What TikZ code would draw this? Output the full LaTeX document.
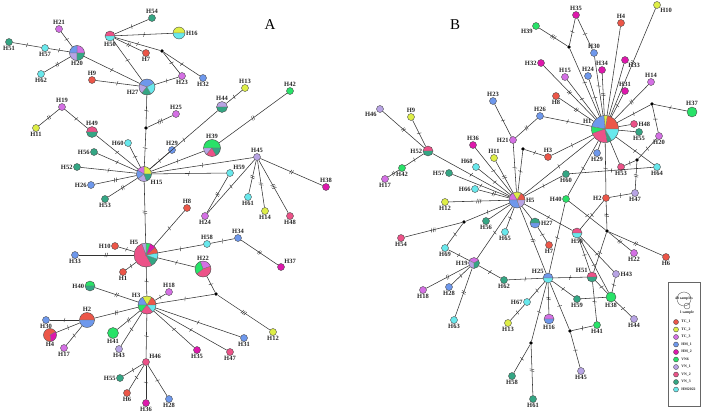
\documentclass[tikz,border=0pt]{standalone}
\usepackage{fontspec}
\setmainfont{Liberation Serif}
\usetikzlibrary{decorations.markings}

\definecolor{tcA}{RGB}{236,86,72}
\definecolor{tcB}{RGB}{222,238,70}
\definecolor{tcC}{RGB}{212,112,228}
\definecolor{hmA}{RGB}{110,152,236}
\definecolor{hmB}{RGB}{222,24,172}
\definecolor{vnS}{RGB}{40,226,104}
\definecolor{vnA}{RGB}{184,164,228}
\definecolor{vnB}{RGB}{236,82,136}
\definecolor{vnC}{RGB}{52,166,132}
\definecolor{hmX}{RGB}{104,232,236}

\tikzset{
  tk/.style={line width=.4pt,draw=black!80},
  pie/.style={path picture={\foreach \cl/\sa/\ea in {#1}{\filldraw[fill=\cl,draw=black!55,line width=.3pt] (path picture bounding box.center) -- ++(\sa:30pt) arc[start angle=\sa,end angle=\ea,radius=30pt] -- cycle;}}},
  m1/.style={postaction={decorate,decoration={markings,mark=at position .5 with {\draw[tk] (-.5pt,-2.2pt) -- (.5pt,2.2pt);}}}},
  m2/.style={postaction={decorate,decoration={markings,mark=at position .5 with {\draw[tk] (-1.4pt,-2.2pt) -- (-.4pt,2.2pt) (.4pt,-2.2pt) -- (1.4pt,2.2pt);}}}},
  m3/.style={postaction={decorate,decoration={markings,mark=at position .5 with {\draw[tk] (-2.3pt,-2.2pt) -- (-1.3pt,2.2pt) (-.5pt,-2.2pt) -- (.5pt,2.2pt) (1.3pt,-2.2pt) -- (2.3pt,2.2pt);}}}}
}

\begin{document}
\begin{tikzpicture}[x=1pt,y=-1pt,
  hap/.style={circle,draw=black!70,line width=.4pt,inner sep=0pt,minimum size=7pt},
  dot/.style={circle,fill=black,inner sep=0pt,minimum size=3.6pt},
  lbl/.style={font=\fontsize{6.5}{7}\selectfont\bfseries,inner sep=.6pt,text=black!85},
  lg/.style={font=\fontsize{3.8}{4}\selectfont\bfseries,inner sep=0pt,text=black!85},
  edge/.style={draw=black!80,line width=.55pt}]
\useasboundingbox (0,0) rectangle (709,415);

% ---------------- network A
\node[font=\fontsize{15}{15}\selectfont] (tA) at (270,25) {A};
\foreach \n/\x/\y/\cl/\p in {54/152/18/vnC/above, 7/146/53/tcA/below, 21/59/29/tcC/above, 51/9/42/vnC/below,
  57/45/48/hmX/below, 62/41/74/hmX/below, 9/92/80/tcA/above, 23/182/76/tcC/below, 32/203/78/hmA/below,
  25/176/114/tcC/above, 13/245/88/tcB/above, 42/290/91/vnS/above, 19/62/107/tcC/above, 11/36/128/tcB/below,
  60/128/143/hmX/left, 56/94/152/vnC/left, 52/77/167/vnC/left, 26/91/185/hmA/left, 53/105/199/vnC/below,
  29/172/150/hmA/above, 59/230/173/hmX/above right, 45/257/157/vnA/above, 38/326/187/hmB/above,
  61/248/197/hmX/below, 14/265/211/tcB/below, 48/290/216/vnB/below, 24/205/216/tcC/below, 8/187/208/tcA/above,
  10/115/246/tcA/left, 33/75/255/hmA/below, 1/123/272/tcA/below, 58/207/244/hmX/above, 34/238/238/hmA/above,
  37/281/267/hmB/above right, 18/169/292/tcC/above, 12/273/332/tcB/below, 30/46/320/hmA/below,
  17/64/348/tcC/below, 43/119/349/vnA/below, 35/197/350/hmB/below, 47/230/352/vnB/below, 31/244/338/hmA/below,
  46/146/362/vnB/above right, 55/120/378/vnC/left, 6/127/393/tcA/below, 36/146/403/hmB/below, 28/169/399/hmA/below}
  \node[hap,fill=\cl,label={[lbl]\p:H\n}] (a\n) at (\x,\y) {};
\node[hap,minimum size=10pt,pie={vnB/0/180,hmX/180/360},label={[lbl]below:H50}] (a50) at (110,36) {};
\node[hap,minimum size=12pt,pie={tcB/0/180,hmX/180/360},label={[lbl]right:H16}] (a16) at (179,33) {};
\node[hap,minimum size=15pt,pie={tcC/0/90,hmA/90/180,vnA/180/270,vnC/270/360},label={[lbl]below:H20}] (a20) at (77,53) {};
\node[hap,minimum size=16pt,pie={hmA/30/160,vnA/160/230,vnC/230/300,hmX/300/390},label={[lbl]200:H27}] (a27) at (147,87) {};
\node[hap,minimum size=11pt,pie={vnA/0/180,vnC/180/360},label={[lbl]above:H44}] (a44) at (222,107) {};
\node[hap,minimum size=11pt,pie={vnB/0/180,vnC/180/360},label={[lbl]above:H49}] (a49) at (92,132) {};
\node[hap,minimum size=15pt,pie={tcB/0/90,tcC/90/150,hmA/150/220,vnA/220/290,vnC/290/360},label={[lbl]-40:H15}] (a15) at (144,174) {};
\node[hap,minimum size=17pt,pie={vnS/0/180,vnA/180/230,vnB/230/300,vnC/300/360},label={[lbl]above:H39}] (a39) at (212,148) {};
\node[hap,minimum size=24pt,pie={vnB/110/300,vnC/300/340,hmX/340/370,tcA/10/40,hmB/40/70,vnS/70/90,vnA/90/110},label={[lbl]125:H5}] (a5) at (146,255) {};
\node[hap,minimum size=16pt,pie={tcC/20/110,vnS/110/220,vnB/220/380},label={[lbl]above:H22}] (a22) at (203,269) {};
\node[hap,minimum size=10pt,pie={vnS/0/180,vnC/180/360},label={[lbl]left:H40}] (a40) at (90,286) {};
\node[hap,minimum size=11pt,fill=vnS,label={[lbl]below:H41}] (a41) at (113,333) {};
\node[hap,minimum size=18pt,pie={tcA/0/60,tcB/60/120,hmA/120/180,vnS/180/230,vnB/230/310,hmX/310/360},label={[lbl]130:H3}] (a3) at (147,305) {};
\node[hap,minimum size=15pt,pie={tcA/0/180,hmA/180/360},label={[lbl]above:H2}] (a2) at (87,320) {};
\node[hap,minimum size=13pt,pie={tcA/30/280,hmB/280/390},label={[lbl]below:H4}] (a4) at (50,335) {};
\node[dot] (ja1) at (162,51) {};
\node[dot] (ja2) at (146,128) {};
\node[dot] (ja3) at (216,294) {};

\foreach \a/\b in {a54/a50, a16/a50, a50/ja1, ja1/a23, ja1/a32, a50/a27, a23/a27, a20/a21, a20/a57, a57/a51,
  a20/a27, a9/a27, a27/ja2, ja2/a15, a19/a49, a49/a15, a44/a13, a44/a15, a39/a15, a29/a15, a60/a15, a56/a15,
  a52/a15, a15/a45, a15/a59, a45/a24, a5/a8, a5/a10, a5/a1, a5/a58, a58/a34, a5/a22, a5/a3, a22/ja3, ja3/a3,
  a3/a18, a2/a30, a2/a4, a2/a17, a3/a43, a3/a35, a3/a47, a3/a31, a3/a46, a46/a55, a46/a6, a46/a36, a46/a28}
  \draw[edge,m1] (\a) -- (\b);
\foreach \a/\b in {a50/a7, a20/a62, a19/a11, a42/a39, a26/a15, a53/a15, a59/a24, a45/a61, a45/a14, a45/a38,
  a15/a5, a5/a33, a34/a37, a3/a40, a3/a2, a3/a41}
  \draw[edge,m2] (\a) -- (\b);
\foreach \a/\b in {ja2/a25, a45/a48, ja3/a12}
  \draw[edge,m3] (\a) -- (\b);

% ---------------- network B
\node[font=\fontsize{15}{15}\selectfont] (tB) at (455,25) {B};
\foreach \n/\x/\y/\cl/\p in {46/380/109/vnA/below left, 9/411/117/tcB/above, 23/493/101/hmA/above,
  42/402/168/vnS/below, 17/385/179/tcC/below, 36/473/145/hmB/above, 21/513/140/tcC/left,
  68/476/167/hmX/above left, 11/494/158/tcB/above, 57/449/173/vnC/left, 66/475/189/hmX/left,
  12/445/202/tcB/below, 3/548/157/tcA/above, 56/486/221/vnC/below, 65/505/232/hmX/below,
  54/401/238/vnB/below, 69/445/248/hmX/below, 18/423/290/tcC/below, 28/449/287/hmA/below,
  63/454/320/hmX/below, 62/504/280/vnC/below, 7/549/245/tcA/below, 67/527/302/hmX/left,
  13/508/323/tcB/below, 58/512/376/vnC/below, 61/533/399/vnC/below, 45/581/371/vnA/below,
  59/577/299/vnC/below, 41/597/325/vnS/below, 44/634/319/vnA/below, 43/616/274/vnA/right,
  22/634/253/tcC/below, 6/666/257/tcA/below, 2/606/198/tcA/left, 47/635/193/vnA/below,
  40/566/199/vnS/left, 60/566/174/vnC/below, 29/597/153/hmA/below, 53/621/167/vnB/below,
  64/657/167/hmX/below, 20/659/136/tcC/below, 55/639/132/vnC/below, 48/634/124/vnB/right,
  14/651/82/tcC/above, 31/625/91/hmB/above, 33/625/60/hmB/below right, 34/602/70/hmB/above,
  24/588/76/hmA/above, 15/565/77/tcC/above, 8/556/96/tcA/below, 32/541/63/hmB/left,
  26/540/116/hmA/above, 30/594/53/hmA/above, 35/576/15/hmB/above, 39/536/26/vnS/below left,
  4/621/23/tcA/above, 10/657/5/tcB/below right}
  \node[hap,fill=\cl,label={[lbl]\p:H\n}] (b\n) at (\x,\y) {};
\node[hap,minimum size=27pt,pie={tcA/0/80,tcB/80/95,hmA/95/170,vnS/170/200,vnB/200/280,vnC/280/300,hmX/300/360},label={[lbl]160:H1}] (b1) at (605,129) {};
\node[hap,minimum size=10pt,pie={vnB/0/180,vnC/180/360},label={[lbl]left:H52}] (b52) at (428,151) {};
\node[hap,minimum size=16pt,pie={tcA/0/60,tcB/60/120,tcC/120/180,hmA/180/290,vnA/290/360},label={[lbl]right:H5}] (b5) at (517,200) {};
\node[hap,minimum size=11pt,pie={tcC/30/150,vnA/150/270,vnC/270/390},label={[lbl]left:H19}] (b19) at (474,263) {};
\node[hap,minimum size=10pt,pie={vnC/0/180,hmA/180/360},label={[lbl]right:H27}] (b27) at (535,223) {};
\node[hap,minimum size=10pt,pie={hmA/0/180,hmX/180/360},label={[lbl]above left:H25}] (b25) at (548,278) {};
\node[hap,minimum size=10pt,pie={tcC/0/180,hmA/180/360},label={[lbl]below:H16}] (b16) at (549,319) {};
\node[hap,minimum size=10pt,pie={vnB/0/180,vnC/180/360},label={[lbl]above left:H51}] (b51) at (592,277) {};
\node[hap,minimum size=10pt,pie={vnB/0/180,hmX/180/360},label={[lbl]below:H50}] (b50) at (577,233) {};
\node[hap,minimum size=10pt,fill=vnS,label={[lbl]below:H38}] (b38) at (611,297) {};
\node[hap,minimum size=10pt,fill=vnS,label={[lbl]above:H37}] (b37) at (692,112) {};
\foreach \n/\x/\y in {1/523/149, 2/464/222, 3/531/343, 4/570/331, 5/607/231, 6/637/160, 7/652/104, 8/569/47}
  \node[dot] (jb\n) at (\x,\y) {};

\foreach \a/\b in {b1/b29, b1/b55, b1/b48, b1/b53, b1/b4, b1/b33, b27/b5, b59/b38, b56/b5}
  \draw[edge] (\a) -- (\b);
\foreach \a/\b in {b9/b52, b52/b42, b52/b5, b23/b21, b21/b5, jb1/b3, jb1/b5, b3/b1, b36/b5, b68/b5, b57/b5,
  jb2/b5, jb2/b69, b69/b19, b19/b5, b65/b5, b27/b7, b19/b62, b19/b28, b62/b25, b40/b25, b25/b51, b25/b67,
  b67/b13, b25/jb3, jb3/b58, b25/jb4, jb4/b41, jb4/b45, b25/b59, b51/b41, b51/b38, b38/b44, b38/b43,
  b50/b51, b50/b43, b50/b38, b50/b2, b5/b50, b40/jb5, jb5/b51, b2/b47, b2/b1, b40/b1, b5/b1, b60/b5,
  b60/b64, b1/b64, b53/jb6, jb6/b20, b1/jb7, jb7/b20, jb7/b37, b31/b1, b24/b1, b30/b1, b35/b30, b35/jb8,
  jb8/b1, b15/b1, b26/b1}
  \draw[edge,m1] (\a) -- (\b);
\foreach \a/\b in {b46/b52, b42/b17, b26/b21, b11/b5, b66/b5, b19/b18, b19/b63, b5/b25, b25/b16, jb3/b61,
  jb5/b22, jb5/b6, jb5/b2, jb6/b47, b14/b1, b10/b1, b34/b1, b32/b1, b8/b1}
  \draw[edge,m2] (\a) -- (\b);
\foreach \a/\b in {b12/b5, b54/jb2, jb8/b39}
  \draw[edge,m3] (\a) -- (\b);

% ---------------- key
\node[draw=black!60,line width=.4pt,minimum width=32pt,minimum height=124pt,inner sep=0pt] (key) at (684,344) {};
\node[circle,draw=black!70,line width=.35pt,minimum size=14pt,inner sep=0pt] (kbig) at (684,299) {};
\node[lg] (kbigt) at (kbig) {48 samples};
\node[circle,draw=black!70,line width=.35pt,minimum size=6pt,inner sep=0pt] (ksmall) at (687,306) {};
\node[lg] (ksmallt) at (687,313) {1 sample};
\foreach \i/\cl/\lab in {1/tcA/TC\_1, 2/tcB/TC\_2, 3/tcC/TC\_3, 4/hmA/HM\_1, 5/hmB/HM\_2, 6/vnS/VN6,
  7/vnA/VN\_1, 8/vnB/VN\_2, 9/vnC/VN\_3, 10/hmX/HM2022}{
  \node[hap,fill=\cl,minimum size=5pt] (k\i) at (676,314.5+7.5*\i) {};
  \node[lg,anchor=west] (kt\i) at ([xshift=2.5pt]k\i.east) {\lab};
}
\end{tikzpicture}
\end{document}
